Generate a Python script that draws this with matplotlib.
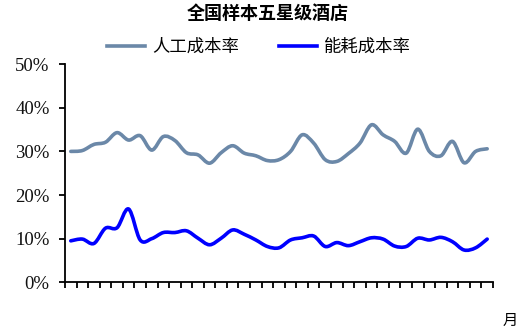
import numpy as np
import matplotlib
matplotlib.use("Agg")
import matplotlib.pyplot as plt
from matplotlib.path import Path
from matplotlib.patches import PathPatch
from matplotlib.lines import Line2D

plt.rcParams['font.family'] = ['Liberation Serif', 'Noto Sans CJK SC']

# 月度数据 (37 个月)
months = np.arange(37)
labor = [30.0, 30.2, 31.6, 32.1, 34.3, 32.6, 33.6, 30.3, 33.4, 32.5,
         29.7, 29.2, 27.3, 29.7, 31.3, 29.6, 29.0, 27.9, 28.1, 30.0,
         33.8, 31.9, 28.1, 27.7, 29.5, 31.9, 36.1, 33.8, 32.3, 29.6,
         35.1, 30.0, 29.0, 32.3, 27.4, 30.0, 30.6]
energy = [9.5, 9.9, 8.9, 12.4, 12.5, 16.8, 9.7, 10.0, 11.4, 11.4,
          11.8, 10.1, 8.6, 10.1, 12.0, 11.0, 9.7, 8.2, 7.9, 9.7,
          10.2, 10.6, 8.2, 9.1, 8.4, 9.3, 10.2, 9.9, 8.3, 8.2,
          10.1, 9.7, 10.3, 9.3, 7.4, 7.9, 9.9]
series_names = ['人工成本率', '能耗成本率']
colors = ['#6B88A8', '#0000FF']
yticks = [0, 10, 20, 30, 40, 50]


def smooth_path(x, y):
    # excel style smoothed line: cubic bezier through every point
    p = np.column_stack([x, y]).astype(float)
    p_ext = np.vstack([p[0], p, p[-1]])
    verts = [p[0]]
    codes = [Path.MOVETO]
    for i in range(len(p) - 1):
        p0, p1, p2, p3 = p_ext[i], p_ext[i + 1], p_ext[i + 2], p_ext[i + 3]
        c1 = p1 + (p2 - p0) / 6.0
        c2 = p2 - (p3 - p1) / 6.0
        verts += [c1, c2, p2]
        codes += [Path.CURVE4] * 3
    return Path(verts, codes)


fig = plt.figure(figsize=(5.2, 3.29), dpi=100)
ax = fig.add_axes([0.125, 0.142, 0.823, 0.663])

handles = []
for vals, c in zip([labor, energy], colors):
    patch = PathPatch(smooth_path(months, vals), fill=False, edgecolor=c,
                      lw=2.6, capstyle='round', joinstyle='round')
    ax.add_patch(patch)
    handles.append(Line2D([], [], color=c, lw=2.6))

ax.set_xlim(-0.5, 36.5)
ax.set_ylim(0, 50)
ax.set_xticks(np.arange(-0.5, 37, 1))
ax.set_xticklabels([])
ax.set_yticks(yticks)
ax.set_yticklabels(['%d%%' % v for v in yticks], fontsize=13.5, color='#111111',
                   family='Liberation Serif')
ax.tick_params(axis='both', direction='out', length=4, width=1.3, pad=7)
for s in ['top', 'right']:
    ax.spines[s].set_visible(False)
for s in ['left', 'bottom']:
    ax.spines[s].set_linewidth(1.3)

fig.text(0.515, 0.96, '全国样本五星级酒店', ha='center', va='center',
         fontsize=13, fontweight='bold', family='Noto Sans CJK SC')
fig.legend(handles, series_names, loc='center', bbox_to_anchor=(0.498, 0.858),
           ncol=2, frameon=False, handlelength=2.2, handletextpad=0.4,
           columnspacing=2.3, prop={'family': 'Noto Sans CJK SC', 'size': 12.5})
fig.text(0.981, 0.027, '月', ha='center', va='center', fontsize=11,
         family='Noto Sans CJK SC')

fig.savefig('out.png', dpi=100)
